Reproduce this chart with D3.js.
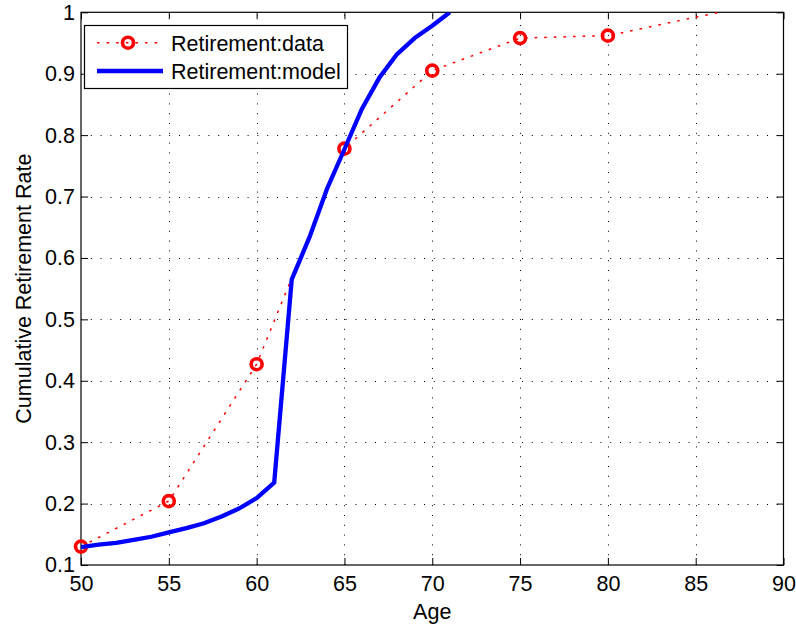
<!DOCTYPE html>
<html>
<head>
<meta charset="utf-8">
<script src="https://cdn.jsdelivr.net/npm/d3@7"></script>
<style>
  body { margin: 0; background: #fff; }
  svg { display: block; }
  text { font-family: "Liberation Sans", Arial, Helvetica, sans-serif; fill: #000; }
</style>
</head>
<body>
<svg id="chart" width="796" height="624"></svg>
<script>
// Observed cumulative retirement rate by age
const dataAges  = [50, 55, 60, 65, 70, 75, 80, 90];
const dataRates = [0.13, 0.204, 0.427, 0.778, 0.905, 0.958, 0.962, 1.022];

// Model-implied cumulative retirement rate, one value per year of age
const modelAges  = [50, 51, 52, 53, 54, 55, 56, 57, 58, 59, 60, 61, 62, 63, 64, 65, 66, 67, 68, 69, 70, 71];
const modelRates = [0.129, 0.133, 0.136, 0.141, 0.146, 0.153, 0.160, 0.168, 0.179, 0.192, 0.209, 0.234,
                    0.565, 0.633, 0.712, 0.777, 0.843, 0.894, 0.932, 0.958, 0.978, 1.0];

const xTicks = [50, 55, 60, 65, 70, 75, 80, 85, 90];
const yTicks = [0.1, 0.2, 0.3, 0.4, 0.5, 0.6, 0.7, 0.8, 0.9, 1];
const yTickLabels = ["0.1", "0.2", "0.3", "0.4", "0.5", "0.6", "0.7", "0.8", "0.9", "1"];

const seriesNames = ["Retirement:data", "Retirement:model"];
const xLabel = "Age";
const yLabel = "Cumulative Retirement Rate";

const plot = { left: 81, right: 783.5, top: 12.3, bottom: 565 };
const tickLen = 7;

const svg = d3.select("#chart");

const x = d3.scaleLinear().domain([50, 90]).range([plot.left, plot.right]);
const y = d3.scaleLinear().domain([0.1, 1]).range([plot.bottom, plot.top]);

svg.append("defs").append("clipPath").attr("id", "plot-clip")
  .append("rect")
  .attr("x", plot.left).attr("y", plot.top)
  .attr("width", plot.right - plot.left).attr("height", plot.bottom - plot.top);

// Dotted grid
const grid = svg.append("g").attr("stroke", "#000").attr("stroke-width", 1)
  .attr("stroke-dasharray", "1,8.8");
grid.selectAll("line.gx").data(xTicks.slice(1, -1)).join("line").attr("class", "gx")
  .attr("x1", d => Math.round(x(d)) + 0.5).attr("x2", d => Math.round(x(d)) + 0.5)
  .attr("y1", plot.bottom).attr("y2", plot.top);
grid.selectAll("line.gy").data(yTicks.slice(1, -1)).join("line").attr("class", "gy")
  .attr("y1", d => Math.round(y(d)) + 0.5).attr("y2", d => Math.round(y(d)) + 0.5)
  .attr("x1", plot.left).attr("x2", plot.right);

// Axes with inward ticks
const fmtY = d => yTickLabels[yTicks.indexOf(d)];

const gBottom = svg.append("g").attr("transform", `translate(0,${plot.bottom})`)
  .call(d3.axisBottom(x).tickValues(xTicks).tickSizeInner(-tickLen).tickSizeOuter(0).tickPadding(11));
const gTop = svg.append("g").attr("transform", `translate(0,${plot.top})`)
  .call(d3.axisTop(x).tickValues(xTicks).tickSizeInner(-tickLen).tickSizeOuter(0).tickFormat(""));
const gLeft = svg.append("g").attr("transform", `translate(${plot.left},0)`)
  .call(d3.axisLeft(y).tickValues(yTicks).tickSizeInner(-tickLen).tickSizeOuter(0).tickPadding(6).tickFormat(fmtY));
const gRight = svg.append("g").attr("transform", `translate(${plot.right},0)`)
  .call(d3.axisRight(y).tickValues(yTicks).tickSizeInner(-tickLen).tickSizeOuter(0).tickFormat(""));

[gBottom, gTop, gLeft, gRight].forEach(g => {
  g.select(".domain").remove();
  g.selectAll(".tick line").attr("stroke", "#000").attr("stroke-width", 1);
  g.selectAll(".tick text").attr("font-size", 21.5).attr("fill", "#000")
    .attr("font-family", '"Liberation Sans", Arial, Helvetica, sans-serif');
});

// Axes box
svg.append("rect")
  .attr("x", plot.left).attr("y", plot.top)
  .attr("width", plot.right - plot.left).attr("height", plot.bottom - plot.top)
  .attr("fill", "none").attr("stroke", "#000").attr("stroke-width", 1.2);

// Series
const dataPts = dataAges.map((a, i) => ({ age: a, rate: dataRates[i] }));
const modelPts = modelAges.map((a, i) => ({ age: a, rate: modelRates[i] }));
const line = d3.line().x(d => x(d.age)).y(d => y(d.rate));

const series = svg.append("g");
series.append("path").datum(dataPts)
  .attr("clip-path", "url(#plot-clip)")
  .attr("d", line).attr("fill", "none")
  .attr("stroke", "#ff0000").attr("stroke-width", 1.5)
  .attr("stroke-dasharray", "2.6,7");

series.selectAll("circle.obs")
  .data(dataPts.filter(d => d.rate <= 1 && d.age <= 90))
  .join("circle").attr("class", "obs")
  .attr("cx", d => x(d.age)).attr("cy", d => y(d.rate)).attr("r", 5.5)
  .attr("fill", "none").attr("stroke", "#ff0000").attr("stroke-width", 3.6);

series.append("path").datum(modelPts)
  .attr("clip-path", "url(#plot-clip)")
  .attr("d", line).attr("fill", "none")
  .attr("stroke", "#0000ff").attr("stroke-width", 4.3)
  .attr("stroke-linejoin", "round");

// Axis labels
svg.append("text").attr("x", (plot.left + plot.right) / 2).attr("y", 619)
  .attr("text-anchor", "middle").attr("font-size", 21.5).text(xLabel);
svg.append("text")
  .attr("transform", `translate(31,${(plot.top + plot.bottom) / 2}) rotate(-90)`)
  .attr("text-anchor", "middle").attr("font-size", 21.5).text(yLabel);

// Legend
const legend = svg.append("g");
legend.append("rect").attr("x", 84.5).attr("y", 25.5).attr("width", 263).attr("height", 63)
  .attr("fill", "#fff").attr("stroke", "#000").attr("stroke-width", 1.2);
const rowY = [42.7, 71];
legend.append("line").attr("x1", 97).attr("x2", 161).attr("y1", rowY[0]).attr("y2", rowY[0])
  .attr("stroke", "#ff0000").attr("stroke-width", 1.5).attr("stroke-dasharray", "2.6,7");
legend.append("circle").attr("cx", 128).attr("cy", rowY[0]).attr("r", 5.5)
  .attr("fill", "none").attr("stroke", "#ff0000").attr("stroke-width", 3.6);
legend.append("line").attr("x1", 97).attr("x2", 163).attr("y1", rowY[1]).attr("y2", rowY[1])
  .attr("stroke", "#0000ff").attr("stroke-width", 4.3);
legend.selectAll("text.lg").data(seriesNames).join("text").attr("class", "lg")
  .attr("x", 171).attr("y", (d, i) => rowY[i] + 7.8)
  .attr("font-size", 21.5).text(d => d);
</script>
</body>
</html>
